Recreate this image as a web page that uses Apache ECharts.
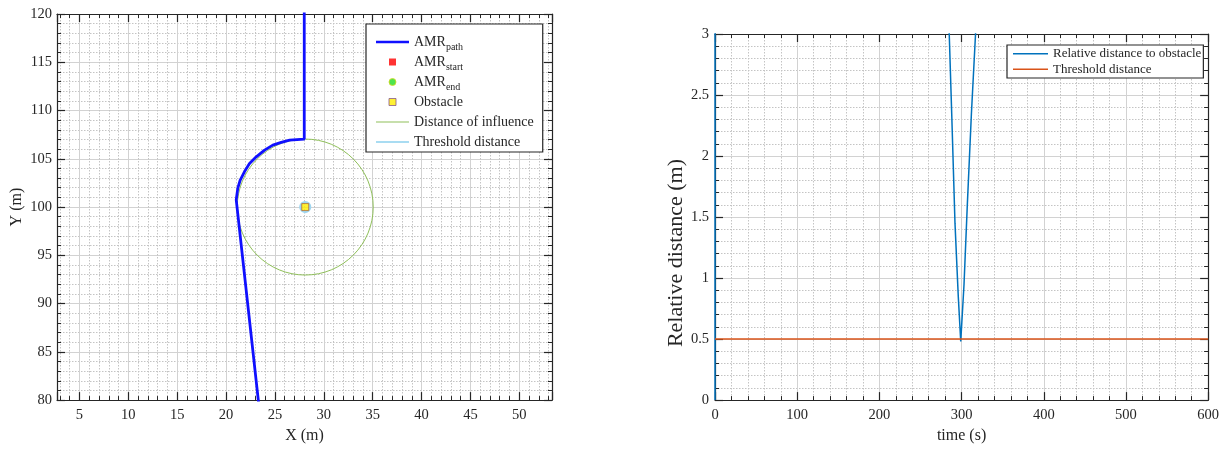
<!DOCTYPE html>
<html><head><meta charset="utf-8">
<script src="https://cdn.jsdelivr.net/npm/echarts@6/dist/echarts.min.js"></script>
<style>html,body{margin:0;padding:0;background:#fff}#c{width:1222px;height:449px}</style>
</head><body><div id="c"></div>
<script>
// ---------- Left chart data (X/Y in m) ----------
const pathX = [23.57, 21.04, 21.2, 21.45, 21.89, 22.4, 23.09, 23.94, 24.78, 25.64, 26.5, 28.0, 28.0];
const pathY = [77.5, 100.75, 101.96, 102.8, 103.68, 104.5, 105.2, 105.9, 106.42, 106.7, 106.94, 107.04, 125];
const startPoint = [23.57, 77.5];
const endPoint = [28.0, 125];
const obstaclePoint = [28.1, 100];
const influenceRadius = 7;
const thresholdRadius = 0.5;
const xRange = [2.7, 53.35];
const yRange = [80, 120];

// ---------- Right chart data ----------
const timeS = [0, 0.5, 100, 200, 280, 285, 288, 292, 296, 299, 303, 307, 312, 317, 320, 400, 500, 600];
const relDist = [0, 40, 28, 15, 3.6, 3.0, 2.35, 1.45, 0.85, 0.48, 0.95, 1.6, 2.35, 3.0, 3.5, 13, 25, 36];
const thresholdTime = [0, 600];
const thresholdVal = [0.5, 0.5];
const timeRange = [0, 600];
const distRange = [0, 3];

const FONT = 'Liberation Serif';
const TXT = '#262626';

function zip(a, b) { return a.map((v, i) => [v, b[i]]); }

function boxAxes(gridIndex, isX, min, max, opts) {
  return Object.assign({
    gridIndex, type: 'value', min, max,
    axisLine: { show: true, onZero: false, lineStyle: { color: '#262626', width: 1.2 } },
    axisTick: { show: true, inside: true, length: 8, lineStyle: { color: '#262626', width: 1.2 } },
    minorTick: { show: true, splitNumber: 5, length: 4, lineStyle: { color: '#262626', width: 1 } },
  }, opts);
}

function mainAxis(gridIndex, isX, min, max, extra) {
  return boxAxes(gridIndex, isX, min, max, Object.assign({
    position: isX ? 'bottom' : 'left',
    axisLabel: { color: TXT, fontFamily: FONT, fontSize: 14.5, margin: isX ? 8 : 5 },
    splitLine: { show: true, lineStyle: { color: '#d2d2d2', width: 1 } },
    minorSplitLine: { show: true, lineStyle: { color: '#c4c4c4', width: 1, type: [1.5, 1.5] } },
    nameLocation: 'middle',
    nameTextStyle: { color: TXT, fontFamily: FONT, fontSize: 16 },
  }, extra));
}

function mirrorAxis(gridIndex, isX, min, max, extra) {
  return boxAxes(gridIndex, isX, min, max, Object.assign({
    position: isX ? 'top' : 'right',
    axisLabel: { show: false },
    splitLine: { show: false },
    minorSplitLine: { show: false },
  }, extra));
}

const xFmt = v => (Math.abs(v / 5 - Math.round(v / 5)) < 1e-6 ? String(Math.round(v)) : '');

const ICON_THICK = 'path://M0,0H33V2.6H0Z';
const ICON_THIN = 'path://M0,0H33V1H0Z';
const ICON_MID = 'path://M0,0H33V2H0Z';
const ICON_SQ = 'path://M0,0H6V6H0Z';
const ICON_R = 'path://M0,0H35V1.5H0Z';

const option = {
  animation: false,
  backgroundColor: '#fff',
  grid: [
    { left: 57, right: 670, top: 14, bottom: 45 },
    { left: 715, right: 12, top: 34, bottom: 41 }
  ],
  xAxis: [
    mainAxis(0, true, xRange[0], xRange[1], {
      minInterval: 5, maxInterval: 5, splitNumber: 10,
      axisLabel: { color: TXT, fontFamily: FONT, fontSize: 14.5, margin: 8, formatter: xFmt, showMinLabel: false, showMaxLabel: false },
      name: 'X (m)', nameGap: 24 }),
    mirrorAxis(0, true, xRange[0], xRange[1], { minInterval: 5, maxInterval: 5, splitNumber: 10 }),
    mainAxis(1, true, timeRange[0], timeRange[1], { interval: 100, name: 'time (s)', nameGap: 22 }),
    mirrorAxis(1, true, timeRange[0], timeRange[1], { interval: 100 })
  ],
  yAxis: [
    mainAxis(0, false, yRange[0], yRange[1], { interval: 5, name: 'Y (m)', nameGap: 32 }),
    mirrorAxis(0, false, yRange[0], yRange[1], { interval: 5 }),
    mainAxis(1, false, distRange[0], distRange[1], {
      interval: 0.5, name: 'Relative distance (m)', nameGap: 27,
      nameTextStyle: { color: TXT, fontFamily: FONT, fontSize: 22, padding: [0, 72, 0, 0] },
      axisLabel: { color: TXT, fontFamily: FONT, fontSize: 14.5, margin: 6 } }),
    mirrorAxis(1, false, distRange[0], distRange[1], { interval: 0.5 })
  ],
  legend: [
    {
      orient: 'vertical', left: 366, top: 24,
      backgroundColor: '#fff', borderColor: '#262626', borderWidth: 1.2, borderRadius: 0,
      padding: [8, 9, 0, 10], itemGap: 0, itemWidth: 33, itemHeight: 7,
      itemStyle: { borderWidth: 0 },
      textStyle: { color: TXT, fontFamily: FONT, fontSize: 14, lineHeight: 20,
        rich: { sub: { fontFamily: FONT, fontSize: 10, color: TXT, lineHeight: 9, verticalAlign: 'bottom' } } },
      formatter: name => name.startsWith('AMR_') ? 'AMR{sub|' + name.slice(4) + '}' : name,
      data: [
        { name: 'AMR_path', icon: ICON_THICK },
        { name: 'AMR_start', icon: ICON_SQ },
        { name: 'AMR_end', icon: 'circle', itemStyle: { borderWidth: 1, borderColor: '#d8d820' } },
        { name: 'Obstacle', icon: ICON_SQ, itemStyle: { borderWidth: 1, borderColor: '#8a5a8a' } },
        { name: 'Distance of influence', icon: ICON_THIN },
        { name: 'Threshold distance', icon: ICON_MID }
      ]
    },
    {
      orient: 'vertical', left: 1007, top: 45,
      backgroundColor: '#fff', borderColor: '#262626', borderWidth: 1.2, borderRadius: 0,
      padding: [1, 2, 1, 6], itemGap: 0, itemWidth: 35, itemHeight: 6,
      itemStyle: { borderWidth: 0 },
      textStyle: { color: TXT, fontFamily: FONT, fontSize: 13, lineHeight: 15.5 },
      data: [
        { name: 'Relative distance to obstacle', icon: ICON_R },
        { name: 'Threshold distance ', icon: ICON_R }
      ]
    }
  ],
  series: [
    {
      name: 'circles', type: 'custom', xAxisIndex: 0, yAxisIndex: 0,
      data: [[obstaclePoint[0], obstaclePoint[1], influenceRadius, 0], [obstaclePoint[0], obstaclePoint[1], thresholdRadius, 1]],
      renderItem: (params, api) => {
        const c = api.coord([api.value(0), api.value(1)]);
        const s = api.size([api.value(2), api.value(2)]);
        const kind = api.value(3);
        return {
          type: 'circle',
          shape: { cx: c[0], cy: c[1], r: (s[0] + s[1]) / 2 },
          style: kind === 0 ? { fill: 'none', stroke: '#8fbf5a', lineWidth: 1 } : { fill: 'none', stroke: '#9fd6f0', lineWidth: 2.5 }
        };
      },
      z: 2
    },
    {
      name: 'AMR_path', type: 'line', xAxisIndex: 0, yAxisIndex: 0,
      data: zip(pathX, pathY), symbol: 'none', clip: true,
      lineStyle: { color: '#1010ff', width: 2.8 }, itemStyle: { color: '#1010ff' }, z: 3
    },
    {
      name: 'AMR_start', type: 'scatter', xAxisIndex: 0, yAxisIndex: 0, clip: true,
      data: [startPoint], symbol: 'rect', symbolSize: 7,
      itemStyle: { color: '#ff0000' }, z: 4
    },
    {
      name: 'AMR_end', type: 'scatter', xAxisIndex: 0, yAxisIndex: 0, clip: true,
      data: [endPoint], symbol: 'circle', symbolSize: 8,
      itemStyle: { color: '#22dd22', borderColor: '#d8d820', borderWidth: 1 }, z: 4
    },
    {
      name: 'Obstacle', type: 'scatter', xAxisIndex: 0, yAxisIndex: 0, clip: true,
      data: [obstaclePoint], symbol: 'rect', symbolSize: 7,
      itemStyle: { color: '#ffee00', borderColor: '#b0703a', borderWidth: 1 }, z: 5
    },
    {
      name: 'Distance of influence', type: 'line', xAxisIndex: 0, yAxisIndex: 0,
      data: [], symbol: 'none', lineStyle: { color: '#8fbf5a', width: 1 }, itemStyle: { color: '#8fbf5a' }
    },
    {
      name: 'Threshold distance', type: 'line', xAxisIndex: 0, yAxisIndex: 0,
      data: [], symbol: 'none', lineStyle: { color: '#a9dcf2', width: 2 }, itemStyle: { color: '#a9dcf2' }
    },
    {
      name: 'Relative distance to obstacle', type: 'line', xAxisIndex: 2, yAxisIndex: 2,
      data: zip(timeS, relDist), symbol: 'none', clip: true,
      lineStyle: { color: '#0072bd', width: 1.5 }, itemStyle: { color: '#0072bd' }, z: 3
    },
    {
      name: 'Threshold distance ', type: 'line', xAxisIndex: 2, yAxisIndex: 2,
      data: zip(thresholdTime, thresholdVal), symbol: 'none', clip: true,
      lineStyle: { color: '#d95319', width: 1.5 }, itemStyle: { color: '#d95319' }, z: 3
    }
  ]
};

const chart = echarts.init(document.getElementById('c'), null, { renderer: 'canvas' });
chart.setOption(option);
</script>
</body></html>
